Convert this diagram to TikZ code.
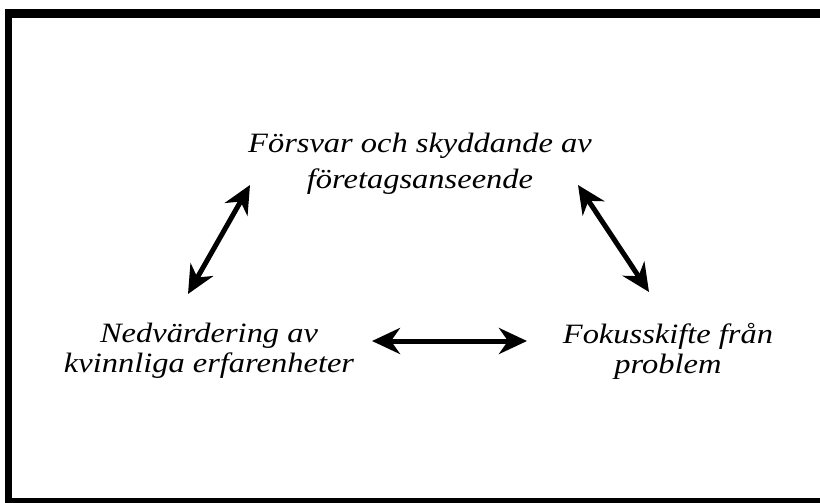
\documentclass[tikz,border=0pt]{standalone}
\usepackage{fontspec}
\newfontfamily\labelfont{Liberation Serif Italic}[FakeStretch=1.16]
\usetikzlibrary{arrows.meta}
\tikzset{
  label text/.style={font=\labelfont\fontsize{28}{36}\selectfont, align=center, inner sep=0pt},
  dblarrow/.style={line width=5pt, {Stealth[length=28pt,width=26pt,inset=9pt]}-{Stealth[length=28pt,width=26pt,inset=9pt]}},
  frame/.style={fill=black}
}
\begin{document}
\begin{tikzpicture}[x=1pt,y=-1pt]
\useasboundingbox (0,0) rectangle (820,503);
% frame
\fill[frame] (5,9) rectangle (820,18);
\fill[frame] (5,9) rectangle (12,503);
\fill[frame] (5,498) rectangle (820,503);
% labels
\node[label text] (top) at (420,163.5) {Försvar och skyddande av\\företagsanseende};
\node[label text, font=\labelfont\fontsize{28}{30}\selectfont] (left) at (209,351) {Nedvärdering av\\kvinnliga erfarenheter};
\node[label text, font=\labelfont\fontsize{28}{30}\selectfont] (right) at (668,351) {Fokusskifte från\\problem};
% arrow end points
\coordinate (lt) at (250,185);
\coordinate (lb) at (188,294);
\coordinate (hl) at (372,341);
\coordinate (hr) at (527,341);
\coordinate (rt) at (578,185);
\coordinate (rb) at (649,292);
\draw[dblarrow] (lb) -- (lt);
\draw[dblarrow] (hl) -- (hr);
\draw[dblarrow] (rt) -- (rb);
\end{tikzpicture}
\end{document}
